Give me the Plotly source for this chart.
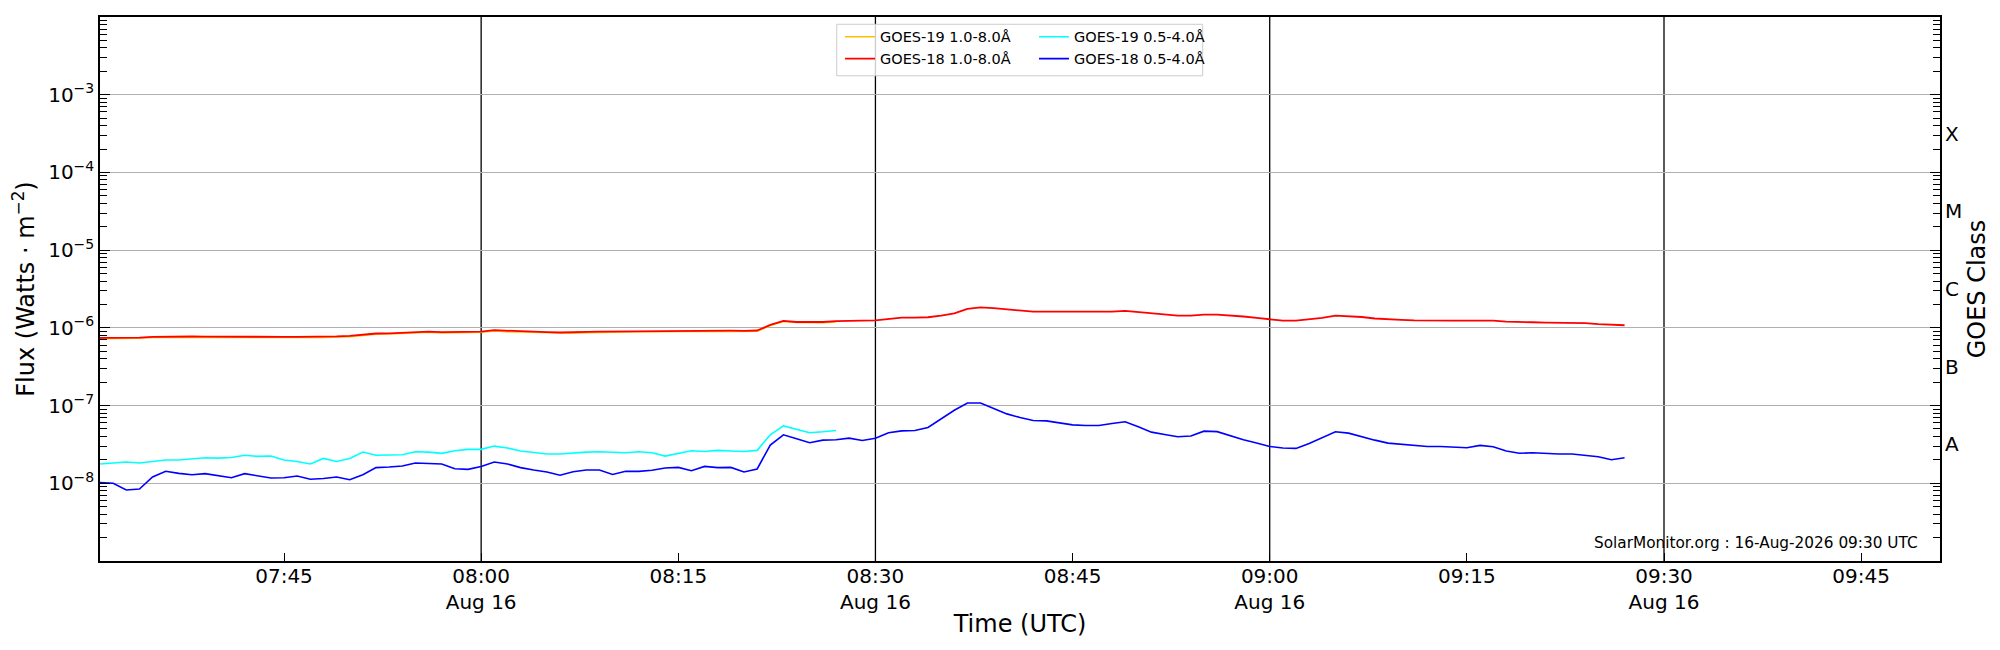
import pandas as pd
import plotly.graph_objects as go

# ---- data (1-minute cadence from 07:31 UTC) ----
start_time = "2026-08-16 07:31"

goes18_long = [  # GOES-18 1.0-8.0 A, W/m^2 (x1e-7)
    7.44, 7.44, 7.44, 7.5, 7.67, 7.74, 7.74, 7.74, 7.7, 7.67,
    7.67, 7.67, 7.67, 7.67, 7.67, 7.67, 7.67, 7.7, 7.78, 7.9,
    8.2, 8.46, 8.5, 8.7, 8.9, 8.97, 8.8, 8.8, 8.9, 8.97,
    9.33, 9.15, 9.06, 8.88, 8.8, 8.71, 8.71, 8.88, 8.97, 9.0,
    9.06, 9.1, 9.1, 9.15, 9.2, 9.2, 9.24, 9.24, 9.2, 9.15,
    9.24, 10.9, 12.3, 11.9, 11.8, 11.9, 12.2, 12.4, 12.4, 12.5,
    13.0, 13.57, 13.57, 13.7, 14.4, 15.4, 17.5, 18.4, 17.9, 17.2,
    16.5, 16.2, 16.2, 16.2, 16.0, 15.9, 15.9, 16.2, 16.5, 16.0,
    15.3, 14.8, 14.4, 14.4, 14.8, 14.8, 14.5, 14.0, 13.4, 12.8,
    12.4, 12.4, 12.9, 13.4, 14.4, 14.25, 13.8, 13.2, 12.8, 12.67,
    12.5, 12.4, 12.4, 12.4, 12.4, 12.5, 12.4, 12.05, 11.8, 11.8,
    11.7, 11.6, 11.6, 11.48, 11.14, 10.9, 10.8,
]
goes19_long = [  # GOES-19 1.0-8.0 A (x1e-7), ends 08:27
    7.25, 7.25, 7.28, 7.35, 7.5, 7.55, 7.56, 7.55, 7.52, 7.5,
    7.5, 7.5, 7.5, 7.49, 7.5, 7.5, 7.5, 7.52, 7.6, 7.72,
    8.0, 8.28, 8.32, 8.5, 8.7, 8.78, 8.62, 8.6, 8.7, 8.78,
    9.1, 8.95, 8.85, 8.68, 8.6, 8.52, 8.52, 8.68, 8.78, 8.8,
    8.86, 8.9, 8.9, 8.95, 9.0, 9.0, 9.05, 9.05, 9.0, 8.95,
    9.05, 10.7, 12.1, 11.7, 11.55, 11.65, 11.95,
]
goes18_short = [  # GOES-18 0.5-4.0 A (x1e-8)
    1.02, 1.0, 0.82, 0.845, 1.205, 1.425, 1.34, 1.29, 1.33, 1.24,
    1.18, 1.33, 1.24, 1.17, 1.18, 1.24, 1.125, 1.15, 1.205, 1.11,
    1.29, 1.59, 1.62, 1.67, 1.82, 1.80, 1.77, 1.54, 1.51, 1.64,
    1.88, 1.77, 1.59, 1.48, 1.40, 1.27, 1.41, 1.48, 1.48, 1.30,
    1.425, 1.425, 1.47, 1.57, 1.60, 1.45, 1.65, 1.59, 1.60, 1.40,
    1.53, 3.10, 4.21, 3.74, 3.32, 3.59, 3.63, 3.81, 3.56, 3.8,
    4.47, 4.73, 4.78, 5.22, 6.81, 8.71, 10.8, 10.8, 9.16, 7.82,
    7.02, 6.42, 6.36, 6.0, 5.65, 5.54, 5.54, 5.88, 6.18, 5.33,
    4.55, 4.25, 3.97, 4.05, 4.69, 4.62, 4.09, 3.63, 3.29, 2.98,
    2.84, 2.81, 3.26, 3.85, 4.60, 4.42, 3.97, 3.59, 3.29, 3.19,
    3.07, 2.98, 2.98, 2.92, 2.87, 3.07, 2.95, 2.60, 2.43, 2.47,
    2.40, 2.38, 2.38, 2.31, 2.20, 2.01, 2.13,
]
goes19_short = [  # GOES-19 0.5-4.0 A (x1e-8), ends 08:27
    1.77, 1.82, 1.88, 1.82, 1.91, 1.99, 1.99, 2.05, 2.13, 2.11,
    2.15, 2.29, 2.22, 2.24, 1.99, 1.91, 1.77, 2.09, 1.91, 2.09,
    2.52, 2.29, 2.31, 2.33, 2.55, 2.52, 2.43, 2.62, 2.73, 2.73,
    3.01, 2.84, 2.60, 2.50, 2.38, 2.38, 2.47, 2.52, 2.55, 2.52,
    2.47, 2.55, 2.47, 2.24, 2.40, 2.62, 2.57, 2.65, 2.60, 2.57,
    2.65, 4.21, 5.48, 4.92, 4.47, 4.60, 4.78,
]

x_range = ["2026-08-16 07:31", "2026-08-16 09:51"]
tick_times = ["2026-08-16 07:45", "2026-08-16 08:00", "2026-08-16 08:15",
              "2026-08-16 08:30", "2026-08-16 08:45", "2026-08-16 09:00",
              "2026-08-16 09:15", "2026-08-16 09:30", "2026-08-16 09:45"]
tick_labels = ["07:45", "08:00<br>Aug 16", "08:15", "08:30<br>Aug 16", "08:45",
               "09:00<br>Aug 16", "09:15", "09:30<br>Aug 16", "09:45"]
marker_times = ["2026-08-16 08:00", "2026-08-16 08:30",
                "2026-08-16 09:00", "2026-08-16 09:30"]

flux_exponents = [-8, -7, -6, -5, -4, -3]
class_labels = ["A", "B", "C", "M", "X"]
class_exponents = [-7.5, -6.5, -5.5, -4.5, -3.5]

# ---- derived ----
t18 = pd.date_range(start_time, periods=len(goes18_long), freq="1min")
t19 = pd.date_range(start_time, periods=len(goes19_long), freq="1min")
g18_long = [v * 1e-7 for v in goes18_long]
g19_long = [v * 1e-7 for v in goes19_long]
g18_short = [v * 1e-8 for v in goes18_short]
g19_short = [v * 1e-8 for v in goes19_short]

major_vals = [10.0 ** e for e in flux_exponents]
major_text = ["10<sup>\u2212%d</sup>" % (-e) for e in flux_exponents]
minor_vals = [m * 10.0 ** e for e in range(-9, -2) for m in range(2, 10)]

FONT = "DejaVu Sans"

fig = go.Figure()
fig.add_trace(go.Scatter(x=t19, y=g19_long, mode="lines", name="GOES-19 1.0-8.0Å",
                         line=dict(color="#FFC000", width=1.6), legend="legend"))
fig.add_trace(go.Scatter(x=t19, y=g19_short, mode="lines", name="GOES-19 0.5-4.0Å",
                         line=dict(color="#00FFFF", width=1.6), legend="legend2"))
# red series sits on the twin (GOES class) axis, which has the identical log range
fig.add_trace(go.Scatter(x=t18, y=g18_long, mode="lines", name="GOES-18 1.0-8.0Å",
                         line=dict(color="#FF0000", width=1.8), legend="legend",
                         yaxis="y2"))
fig.add_trace(go.Scatter(x=t18, y=g18_short, mode="lines", name="GOES-18 0.5-4.0Å",
                         line=dict(color="#0000FF", width=1.6), legend="legend2"))

for t in marker_times:
    fig.add_vline(x=t, line=dict(color="black", width=1.3), layer="below")

# legend frame (the two legend columns share one box)
fig.add_shape(type="rect", xref="paper", yref="paper", x0=0.4004, x1=0.5993, y0=0.892, y1=0.9866,
              fillcolor="rgba(255,255,255,0.8)", line=dict(color="#cccccc", width=1),
              layer="above")

fig.add_annotation(text="SolarMonitor.org : 16-Aug-2026 09:30 UTC", xref="paper", yref="paper",
                   x=0.989, y=0.033, xanchor="right", yanchor="middle", showarrow=False,
                   font=dict(size=15.3, color="black", family=FONT))

# the page body adds an 8px offset, so the figure is 8px smaller than the window
fig.update_layout(
    width=1992, height=642,
    margin=dict(l=92, r=60, t=7, b=89),
    paper_bgcolor="white", plot_bgcolor="white",
    font=dict(family=FONT, size=20, color="black"),
    showlegend=True,
    legend=dict(x=0.4022, y=0.993, xanchor="left", yanchor="top", bgcolor="rgba(0,0,0,0)",
                borderwidth=0, font=dict(size=14.5), tracegroupgap=0),
    legend2=dict(x=0.5076, y=0.993, xanchor="left", yanchor="top", bgcolor="rgba(0,0,0,0)",
                 borderwidth=0, font=dict(size=14.5), tracegroupgap=0),
    xaxis=dict(
        type="date", range=x_range, tickvals=tick_times, ticktext=tick_labels,
        ticks="inside", ticklen=8, tickwidth=1, tickcolor="black",
        ticklabelstandoff=-4,
        showgrid=False, zeroline=False,
        showline=True, linecolor="black", linewidth=1.5, mirror=True,
        title=dict(text="Time (UTC)", standoff=2),
        tickfont=dict(size=20),
    ),
    yaxis=dict(
        type="log", range=[-9, -2], tickvals=major_vals, ticktext=major_text,
        ticks="inside", ticklen=10, tickwidth=1, tickcolor="black",
        minor=dict(tickvals=minor_vals, ticks="inside", ticklen=7, tickwidth=1,
                   tickcolor="black", showgrid=False),
        showgrid=True, gridcolor="#b0b0b0", gridwidth=1, zeroline=False,
        showline=True, linecolor="black", linewidth=1.5, mirror="allticks",
        title=dict(text="Flux (Watts · m<sup>\u22122</sup>)", standoff=10),
        tickfont=dict(size=20),
    ),
    yaxis2=dict(
        type="log", range=[-9, -2], overlaying="y", side="right",
        tickvals=[10.0 ** e for e in class_exponents], ticktext=class_labels,
        ticks="", ticklabelstandoff=4,
        minor=dict(tickvals=minor_vals, ticks="inside", ticklen=7, tickwidth=1,
                   tickcolor="black", showgrid=False),
        showgrid=False, zeroline=False, showline=False,
        title=dict(text="GOES Class", standoff=6),
        tickfont=dict(size=20),
    ),
)

fig.write_html("out.html")
